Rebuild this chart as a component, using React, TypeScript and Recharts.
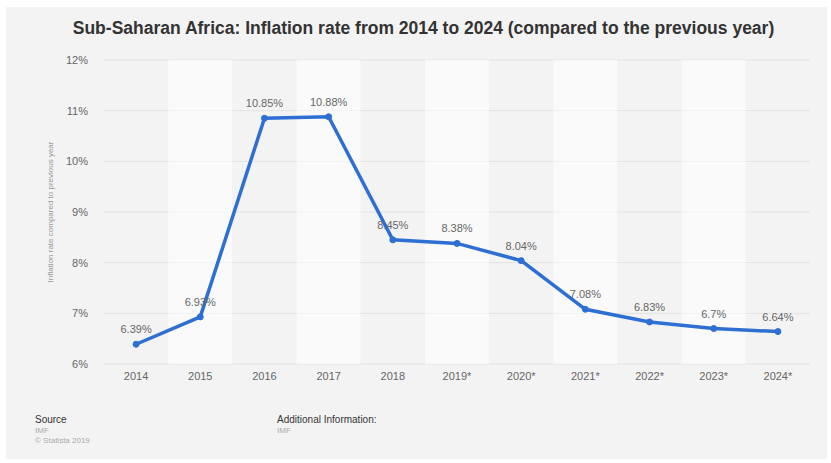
import React from "react";
import {
  ComposedChart,
  Line,
  Bar,
  XAxis,
  YAxis,
  CartesianGrid,
  LabelList,
} from "recharts";

const years = ["2014", "2015", "2016", "2017", "2018", "2019*", "2020*", "2021*", "2022*", "2023*", "2024*"];
const inflation = [6.39, 6.93, 10.85, 10.88, 8.45, 8.38, 8.04, 7.08, 6.83, 6.7, 6.64];
// alternating background stripes (every second year is lighter)
const stripe = [null, 12, null, 12, null, 12, null, 12, null, 12, null];
const yTicks = [6, 7, 8, 9, 10, 11, 12];

const data = years.map((year, i) => ({ year, value: inflation[i], stripe: stripe[i] }));

const font = "'Liberation Sans', Arial, sans-serif";

export default function App() {
  return (
    <div
      style={{
        position: "absolute",
        left: 0,
        top: 0,
        width: 831,
        height: 463,
        background: "#fff",
        fontFamily: font,
      }}
    >
      <div
        style={{
          position: "absolute",
          left: 6,
          top: 7,
          width: 821,
          height: 452,
          background: "#f3f3f3",
        }}
      />
      <div
        style={{
          position: "absolute",
          left: 8,
          top: 18,
          width: 831,
          textAlign: "center",
          fontSize: 17.5,
          fontWeight: "bold",
          color: "#333",
        }}
      >
        Sub-Saharan Africa: Inflation rate from 2014 to 2024 (compared to the previous year)
      </div>
      <div style={{ position: "absolute", left: 0, top: 0 }}>
        <ComposedChart
          width={831}
          height={463}
          data={data}
          margin={{ top: 60, right: 21, bottom: 69, left: 44 }}
          barCategoryGap={0}
        >
          <CartesianGrid vertical={false} stroke="#e3e3e3" />
          <Bar dataKey="stripe" fill="#ffffff" fillOpacity={0.55} isAnimationActive={false} />
          <XAxis
            dataKey="year"
            axisLine={false}
            tickLine={false}
            height={30}
            tick={{ fill: "#666", fontSize: 11, fontFamily: font }}
          />
          <YAxis
            domain={[6, 12]}
            allowDataOverflow
            ticks={yTicks}
            width={60}
            axisLine={false}
            tickLine={false}
            tickSize={8}
            tickMargin={8}
            tickFormatter={(v: number) => `${v}%`}
            tick={{ fill: "#666", fontSize: 11, fontFamily: font }}
            label={{
              value: "Inflation rate compared to previous year",
              angle: -90,
              position: "insideLeft",
              offset: 6,
              style: { fill: "#999", fontSize: 8, fontFamily: font, textAnchor: "middle" },
            }}
          />
          <Line
            type="linear"
            dataKey="value"
            stroke="#2d6fd3"
            strokeWidth={3.5}
            dot={{ r: 3, fill: "#2d6fd3", stroke: "#2d6fd3", strokeWidth: 1 }}
            isAnimationActive={false}
          >
            <LabelList
              dataKey="value"
              position="top"
              offset={11}
              formatter={(v: number) => `${v}%`}
              style={{ fill: "#666", fontSize: 11, fontFamily: font }}
            />
          </Line>
        </ComposedChart>
      </div>
      <div style={{ position: "absolute", left: 35, top: 415, fontSize: 10, lineHeight: "10px" }}>
        <div style={{ color: "#333" }}>Source</div>
        <div style={{ color: "#aaa", fontSize: 8, marginTop: 1 }}>IMF</div>
        <div style={{ color: "#aaa", fontSize: 8 }}>© Statista 2019</div>
      </div>
      <div style={{ position: "absolute", left: 277, top: 415, fontSize: 10, lineHeight: "10px" }}>
        <div style={{ color: "#333" }}>Additional Information:</div>
        <div style={{ color: "#aaa", fontSize: 8, marginTop: 1 }}>IMF</div>
      </div>
    </div>
  );
}
